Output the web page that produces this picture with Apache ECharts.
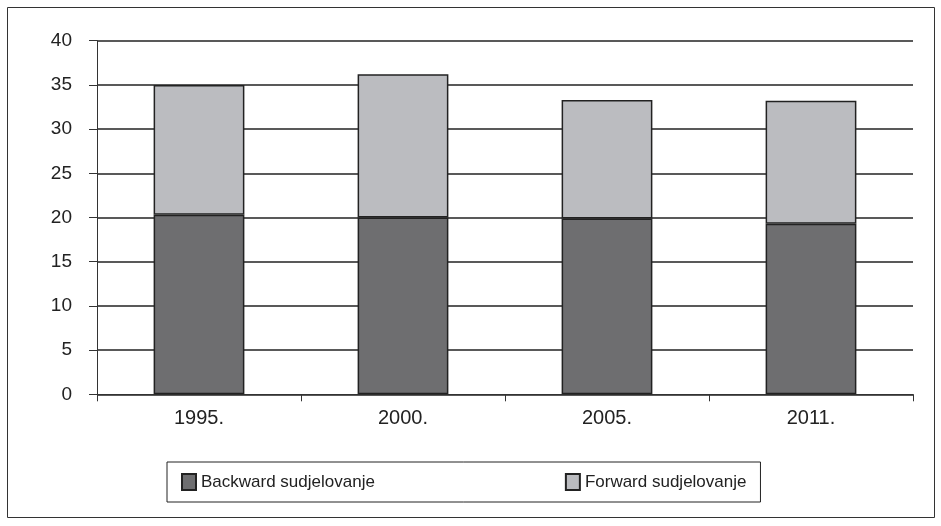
<!DOCTYPE html>
<html>
<head>
<meta charset="utf-8">
<script src="https://cdn.jsdelivr.net/npm/echarts@6/dist/echarts.min.js"></script>
<style>
html,body{margin:0;padding:0;background:#fff;}
#chart{width:941px;height:526px;}
</style>
</head>
<body>
<div id="chart"></div>
<script>
const categories = ['1995.', '2000.', '2005.', '2011.'];
const backward = [20.3, 20.0, 19.9, 19.3];
const forward = [14.7, 16.2, 13.4, 13.9];
const seriesNames = ['Backward sudjelovanje', 'Forward sudjelovanje'];

const chart = echarts.init(document.getElementById('chart'));
const font = 'Liberation Sans, Arial, sans-serif';
chart.setOption({
  animation: false,
  backgroundColor: '#fff',
  textStyle: { fontFamily: font },
  graphic: [{
    type: 'rect',
    shape: { x: 7.5, y: 7.5, width: 927, height: 510 },
    style: { fill: 'none', stroke: '#333', lineWidth: 1 },
    silent: true
  }],
  grid: { left: 97, right: 28, top: 40.7, bottom: 131.7 },
  legend: {
    left: 167, top: 462,
    padding: [11, 14, 11, 14],
    borderColor: '#222', borderWidth: 1,
    itemWidth: 14, itemHeight: 16,
    itemGap: 190,
    icon: 'rect',
    textStyle: { fontFamily: font, fontSize: 17, color: '#222' },
    data: seriesNames
  },
  xAxis: {
    type: 'category',
    data: categories,
    axisLine: { lineStyle: { color: '#333', width: 1 } },
    axisTick: { show: true, length: 7, lineStyle: { color: '#333' }, alignWithLabel: false },
    axisLabel: { fontFamily: font, fontSize: 20, color: '#222', margin: 14 }
  },
  yAxis: {
    type: 'value',
    min: 0, max: 40, interval: 5,
    axisLine: { show: true, lineStyle: { color: '#333', width: 1 } },
    axisTick: { show: true, length: 8, lineStyle: { color: '#333' } },
    axisLabel: { fontFamily: font, fontSize: 19, color: '#222', margin: 25 },
    splitLine: { lineStyle: { color: '#222', width: 1.5 } }
  },
  series: [
    {
      name: seriesNames[0], type: 'bar', stack: 's', data: backward,
      barWidth: '44.5%',
      itemStyle: { color: '#6e6e70', borderColor: '#222', borderWidth: 1.5 }
    },
    {
      name: seriesNames[1], type: 'bar', stack: 's', data: forward,
      barWidth: '44.5%',
      itemStyle: { color: '#bbbcc0', borderColor: '#222', borderWidth: 1.5 }
    }
  ]
});
</script>
</body>
</html>
